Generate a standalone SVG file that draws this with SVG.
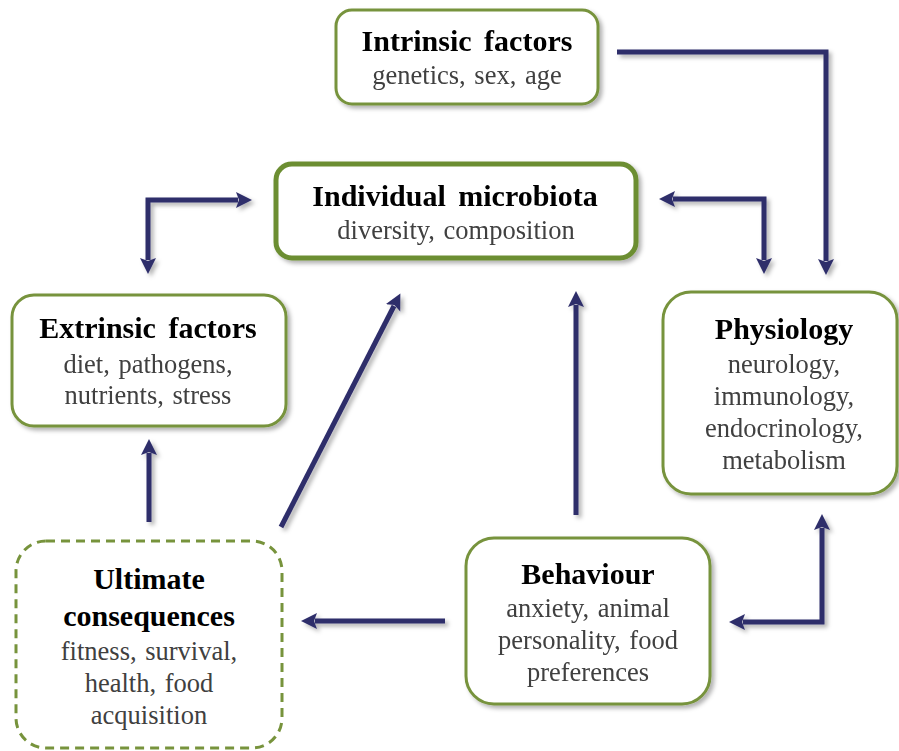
<svg xmlns="http://www.w3.org/2000/svg" width="899" height="751" viewBox="0 0 899 751">
<style>
.box{fill:#fff;stroke:#77933C;stroke-width:3}
.main{stroke:#6C8E32;stroke-width:5}
.dash{stroke-dasharray:9 6}
.t{font-family:'Liberation Serif',serif;font-weight:bold;font-size:30px;fill:#000;text-anchor:middle;word-spacing:5px}
.s{font-family:'Liberation Serif',serif;font-size:26.5px;fill:#404040;text-anchor:middle;word-spacing:2px}
.a{fill:none;stroke:#2E2D6B;stroke-width:5}
</style>
<defs>
<filter id="sh" x="-20%" y="-20%" width="140%" height="140%">
<feDropShadow dx="3" dy="3" stdDeviation="2" flood-color="#000" flood-opacity="0.3"/>
</filter>
<marker id="ah" markerUnits="userSpaceOnUse" markerWidth="18" markerHeight="18" refX="2" refY="8" orient="auto-start-reverse">
<path d="M0,0 L16,8 L0,16 L3,8 Z" fill="#2E2D6B"/>
</marker>
</defs>

<g id="connectors" filter="url(#sh)">
<path class="a" d="M617,52 H826 V261" marker-end="url(#ah)"/>
<path class="a" d="M673,199 H764 V260" marker-start="url(#ah)" marker-end="url(#ah)"/>
<path class="a" d="M148,260 V200 H238" marker-start="url(#ah)" marker-end="url(#ah)"/>
<path class="a" d="M149,522 V453" marker-end="url(#ah)"/>
<path class="a" d="M281,527 L394,306" marker-end="url(#ah)"/>
<path class="a" d="M576,515 V305" marker-end="url(#ah)"/>
<path class="a" d="M445,621 H315" marker-end="url(#ah)"/>
<path class="a" d="M743,622 H822 V528" marker-start="url(#ah)" marker-end="url(#ah)"/>
</g>

<g id="intrinsic" filter="url(#sh)">
<rect class="box" x="336" y="10" width="262" height="94" rx="16"/>
<text class="t" x="467" y="51">Intrinsic factors</text>
<text class="s" x="467" y="84">genetics, sex, age</text>
</g>

<g id="microbiota" filter="url(#sh)">
<rect class="box main" x="276" y="164" width="360" height="94" rx="16"/>
<text class="t" x="455" y="206">Individual microbiota</text>
<text class="s" x="456" y="239">diversity, composition</text>
</g>

<g id="extrinsic" filter="url(#sh)">
<rect class="box" x="12" y="295" width="274" height="131" rx="22"/>
<text class="t" x="148" y="338">Extrinsic factors</text>
<text class="s" x="148" y="373">diet, pathogens,</text>
<text class="s" x="148" y="404">nutrients, stress</text>
</g>

<g id="physiology" filter="url(#sh)">
<rect class="box" x="663" y="292" width="234" height="202" rx="28"/>
<text class="t" x="784" y="339">Physiology</text>
<text class="s" x="784" y="373">neurology,</text>
<text class="s" x="784" y="405">immunology,</text>
<text class="s" x="784" y="437">endocrinology,</text>
<text class="s" x="784" y="469">metabolism</text>
</g>

<g id="ultimate">
<rect class="box dash" x="16" y="541" width="266" height="207" rx="30"/>
<text class="t" x="149" y="589">Ultimate</text>
<text class="t" x="149" y="626">consequences</text>
<text class="s" x="149" y="660">fitness, survival,</text>
<text class="s" x="149" y="692">health, food</text>
<text class="s" x="149" y="724">acquisition</text>
</g>

<g id="behaviour" filter="url(#sh)">
<rect class="box" x="466" y="538" width="244" height="166" rx="28"/>
<text class="t" x="588" y="584">Behaviour</text>
<text class="s" x="588" y="617">anxiety, animal</text>
<text class="s" x="588" y="649">personality, food</text>
<text class="s" x="588" y="681">preferences</text>
</g>
</svg>
